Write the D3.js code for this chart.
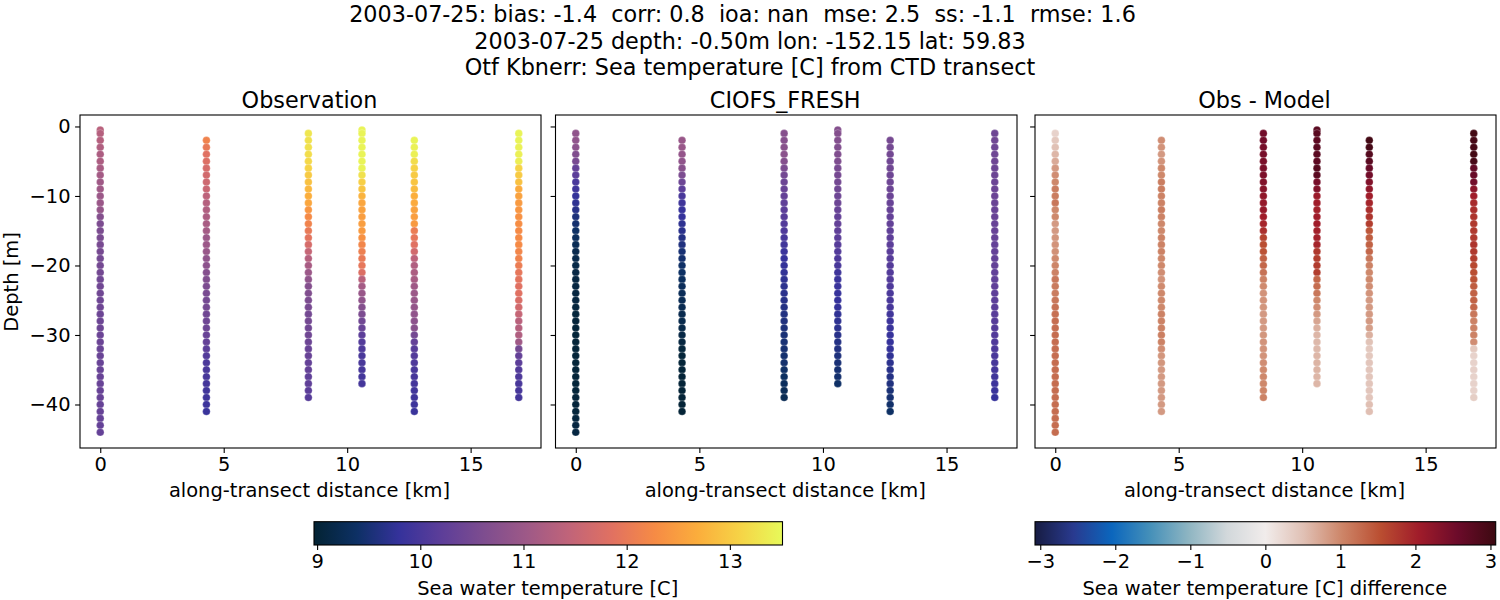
<!DOCTYPE html>
<html><head><meta charset="utf-8">
<script src="https://cdn.jsdelivr.net/npm/d3@7"></script>
<style>html,body{margin:0;padding:0;background:#fff}svg{display:block}text{font-family:"DejaVu Sans";fill:#000}</style>
</head><body><svg id="c" width="1500" height="600"></svg>
<script>
const titleLines = ["2003-07-25: bias: -1.4  corr: 0.8  ioa: nan  mse: 2.5  ss: -1.1  rmse: 1.6","2003-07-25 depth: -0.50m lon: -152.15 lat: 59.83","Otf Kbnerr: Sea temperature [C] from CTD transect"];
const panelTitles = ["Observation","CIOFS_FRESH","Obs - Model"];
const xTicks = [0,5,10,15];
const yTicks = [0,-10,-20,-30,-40];
const tempTicks = [9,10,11,12,13];
const diffTicks = [-3,-2,-1,0,1,2,3];
const stationKm = [0,4.3,8.43,10.6,12.72,16.95];
const depthLevels = [-0.5,-1,-2,-3,-4,-5,-6,-7,-8,-9,-10,-11,-12,-13,-14,-15,-16,-17,-18,-19,-20,-21,-22,-23,-24,-25,-26,-27,-28,-29,-30,-31,-32,-33,-34,-35,-36,-37,-38,-39,-40,-41,-42,-43,-44];
const obsTop = [-0.5,-2,-1,-0.5,-2,-1];
const modelTop = [-1,-2,-1,-0.5,-2,-1];
const obs0 = [11.35,11.3,11.3,11.25,11.2,11.2,11.15,11.1,11.05,11.05,11.0,10.98,10.92,10.7,10.6,10.58,10.56,10.55,10.52,10.5,10.5,10.48,10.45,10.45,10.45,10.42,10.42,10.4,10.4,10.4,10.38,10.38,10.36,10.36,10.35,10.35,10.34,10.34,10.33,10.33,10.32,10.32,10.31,10.3,10.3];
const obs1 = [12.15,12.0,11.85,11.8,11.7,11.65,11.6,11.55,11.4,11.3,11.25,11.2,11.15,11.1,11.0,11.0,10.95,10.85,10.8,10.7,10.65,10.6,10.55,10.5,10.5,10.45,10.42,10.4,10.35,10.3,10.2,10.1,10.02,10.0,9.98,9.95,9.92,9.9,9.88,9.85];
const obs2 = [13.3,13.25,13.25,13.2,13.15,13.1,13.0,12.9,12.8,12.7,12.6,12.4,12.25,12.15,12.0,11.9,11.7,11.5,11.3,11.15,11.0,10.85,10.7,10.65,10.6,10.55,10.5,10.5,10.45,10.45,10.4,10.35,10.35,10.3,10.3,10.25,10.25,10.2,10.15];
const obs3 = [13.45,13.45,13.45,13.45,13.45,13.45,13.45,13.25,13.05,12.95,12.75,12.6,12.55,12.5,12.5,12.45,12.35,12.2,12.1,12.0,11.95,11.8,11.35,11.1,10.95,10.85,10.7,10.6,10.45,10.35,10.2,10.1,10.05,10.0,10.0,9.98,9.95,9.95];
const obs4 = [13.45,13.42,13.4,13.2,13.1,13.0,12.95,12.85,12.7,12.65,12.55,12.5,12.45,12.05,11.95,11.85,11.65,11.4,11.25,11.2,11.15,11.05,11.0,10.95,10.9,10.85,10.8,10.75,10.5,10.3,10.15,10.1,10.05,10.0,9.98,9.95,9.92,9.9,9.88,9.85];
const obs5 = [13.45,13.45,13.42,13.4,13.38,13.1,13.0,12.9,12.65,12.55,12.45,12.4,12.35,12.3,12.25,12.25,12.25,12.2,12.15,12.05,11.95,11.9,11.85,11.85,11.75,11.65,11.5,11.35,11.3,11.25,11.05,10.5,10.3,10.2,10.1,10.05,10.0,9.98,9.95];
const mod0 = [10.85,10.85,10.8,10.65,10.55,10.3,10.2,10.0,9.9,9.78,9.72,9.65,9.55,9.45,9.38,9.32,9.25,9.2,9.18,9.15,9.12,9.1,9.1,9.08,9.08,9.06,9.05,9.04,9.03,9.02,9.02,9.02,9.02,9.02,9.02,9.02,9.03,9.03,9.04,9.04,9.05,9.06,9.08,9.1];
const mod1 = [10.95,10.95,10.9,10.85,10.75,10.6,10.4,10.2,10.0,9.9,9.82,9.8,9.72,9.68,9.62,9.58,9.5,9.45,9.4,9.38,9.32,9.3,9.28,9.25,9.22,9.2,9.18,9.15,9.12,9.08,9.05,9.03,9.02,9.02,9.01,9.01,9.0,9.0,9.0,9.0];
const mod2 = [10.72,10.72,10.75,10.78,10.7,10.6,10.5,10.4,10.35,10.3,10.25,10.2,10.15,10.1,10.05,9.98,9.92,9.85,9.8,9.78,9.75,9.72,9.7,9.68,9.65,9.62,9.6,9.58,9.55,9.52,9.5,9.48,9.46,9.44,9.4,9.36,9.32,9.28,9.25];
const mod3 = [10.7,10.7,10.68,10.65,10.65,10.62,10.55,10.52,10.5,10.45,10.42,10.4,10.35,10.3,10.28,10.25,10.2,10.15,10.1,10.05,10.0,9.9,9.85,9.85,9.82,9.8,9.78,9.74,9.72,9.7,9.66,9.62,9.6,9.56,9.52,9.48,9.45,9.4];
const mod4 = [10.52,10.5,10.48,10.45,10.45,10.42,10.42,10.4,10.38,10.35,10.32,10.3,10.28,10.25,10.22,10.2,10.18,10.15,10.12,10.1,10.1,10.05,10.02,10.0,9.98,9.92,9.88,9.85,9.82,9.8,9.78,9.74,9.7,9.66,9.62,9.58,9.52,9.48,9.42,9.38];
const mod5 = [10.42,10.45,10.42,10.42,10.42,10.4,10.4,10.38,10.38,10.38,10.36,10.35,10.35,10.33,10.33,10.32,10.3,10.3,10.28,10.28,10.26,10.25,10.24,10.22,10.2,10.18,10.16,10.14,10.12,10.1,10.06,10.03,10.0,9.98,9.95,9.92,9.88,9.85,9.8];
const dif0 = [0.3,0.42,0.5,0.6,0.7,0.85,0.95,1.0,1.1,1.1,1.15,1.0,1.0,0.85,0.85,0.88,0.9,0.92,0.98,1.02,1.05,1.15,1.12,1.1,1.15,1.2,1.22,1.25,1.25,1.25,1.25,1.25,1.25,1.25,1.25,1.25,1.25,1.25,1.25,1.25,1.25,1.25,1.25,1.25];
const dif1 = [0.95,0.9,0.85,0.9,1.0,1.0,1.1,1.1,1.05,1.05,1.1,1.05,1.0,1.0,1.05,1.05,1.05,1.0,1.0,0.95,0.9,0.98,1.0,1.0,1.0,1.05,1.05,1.05,1.08,1.05,0.95,0.88,0.88,0.85,0.85,0.85,0.85,0.85,0.85,0.85];
const dif2 = [2.5,2.5,2.45,2.45,2.42,2.42,2.4,2.35,2.3,2.2,2.15,2.15,2.05,1.95,1.85,1.65,1.55,1.5,1.35,1.3,1.2,1.05,0.98,0.9,0.9,0.88,0.85,0.85,0.85,0.88,0.9,0.9,0.9,0.95,0.98,1.0,1.0,1.02,1.05];
const dif3 = [2.75,2.75,2.72,2.75,2.75,2.72,2.8,2.75,2.45,2.35,2.1,2.05,2.0,2.05,2.05,2.0,2.0,1.95,1.75,1.7,1.72,1.7,1.3,1.25,1.15,1.0,0.95,0.85,0.75,0.65,0.6,0.58,0.58,0.6,0.62,0.62,0.6,0.6];
const dif4 = [3.0,2.95,2.8,2.75,2.6,2.5,2.35,2.2,2.05,1.95,1.85,1.8,1.7,1.45,1.4,1.35,1.3,1.15,1.05,1.0,1.0,0.95,0.9,0.85,0.85,0.85,0.85,0.8,0.65,0.48,0.42,0.42,0.45,0.45,0.45,0.45,0.45,0.45,0.52,0.52];
const dif5 = [3.0,2.95,2.95,3.0,2.95,2.65,2.6,2.5,2.25,2.05,1.9,1.85,1.8,1.75,1.75,1.75,1.8,1.75,1.7,1.6,1.55,1.5,1.4,1.35,1.35,1.3,1.15,1.05,1.05,1.05,0.95,0.4,0.3,0.3,0.32,0.3,0.3,0.3,0.35];
const obsValues=[obs0,obs1,obs2,obs3,obs4,obs5], modelValues=[mod0,mod1,mod2,mod3,mod4,mod5], diffValues=[dif0,dif1,dif2,dif3,dif4,dif5];
const thermalStops = ["rgb(3,35,51)","rgb(13,48,100)","rgb(53,50,155)","rgb(93,62,153)","rgb(126,77,143)","rgb(158,89,135)","rgb(193,100,121)","rgb(225,113,97)","rgb(246,139,69)","rgb(251,173,60)","rgb(246,211,70)","rgb(231,250,90)"];
const balanceStops = ["rgb(23,28,66)","rgb(41,58,143)","rgb(11,102,189)","rgb(69,144,185)","rgb(142,181,194)","rgb(210,216,219)","rgb(241,236,235)","rgb(224,192,180)","rgb(205,133,104)","rgb(186,78,49)","rgb(160,28,42)","rgb(108,11,42)","rgb(60,9,17)"];
const tempDomain=[8.97,13.51], diffDomain=[-3.07,3.07];

const ramp=(st,dom)=>d3.scaleLinear().domain(st.map((_,i)=>dom[0]+(dom[1]-dom[0])*i/(st.length-1))).range(st).interpolate(d3.interpolateRgb).clamp(true);
const tempColor=ramp(thermalStops,tempDomain), diffColor=ramp(balanceStops,diffDomain);

const svg=d3.select("#c");
const FS=19.44, TFS=22.3, LW=1.1, TL=4.9;
const titleCx=[742.5,750,750];
svg.append("g").selectAll("text").data(titleLines).join("text")
  .attr("x",(d,i)=>titleCx[i]).attr("y",(d,i)=>22+i*26.5).attr("text-anchor","middle").attr("font-size",TFS).text(d=>d).style("white-space","pre");

const panels=[
 {l:80,r:541,top:obsTop,vals:obsValues,color:tempColor},
 {l:555.5,r:1017,top:modelTop,vals:modelValues,color:tempColor},
 {l:1035,r:1496,top:modelTop,vals:diffValues,color:diffColor}];
const T=115,B=448;
const yScale=d3.scaleLinear().domain([-46.26,1.65]).range([B,T]);

function styleAxis(g){g.attr("font-size",FS).attr("font-family","DejaVu Sans");
  g.select(".domain").remove();g.selectAll(".tick line").attr("stroke","#000").attr("stroke-width",LW);
  g.selectAll(".tick text").attr("fill","#000");}

panels.forEach((p,pi)=>{
  const x=d3.scaleLinear().domain([-0.82,17.85]).range([p.l,p.r]);
  const g=svg.append("g");
  stationKm.forEach((km,si)=>{
    const start=depthLevels.indexOf(p.top[si]);
    const rows=p.vals[si].map((v,i)=>({km,d:depthLevels[start+i],v}));
    g.append("g").selectAll("circle").data(rows).join("circle")
      .attr("cx",d=>x(d.km)).attr("cy",d=>yScale(d.d)).attr("r",3.8).attr("fill",d=>p.color(d.v))
      .attr("stroke","#fff").attr("stroke-opacity",0.3).attr("stroke-width",0.8);
  });
  svg.append("rect").attr("x",p.l).attr("y",T).attr("width",p.r-p.l).attr("height",B-T).attr("fill","none").attr("stroke","#000").attr("stroke-width",LW);
  svg.append("g").attr("transform",`translate(0,${B})`)
    .call(d3.axisBottom(x).tickValues(xTicks).tickFormat(d3.format("d")).tickSize(TL).tickPadding(4.5)).call(styleAxis);
  const ya=d3.axisLeft(yScale).tickValues(yTicks).tickSize(TL).tickPadding(4.5);
  if(pi>0)ya.tickFormat("");
  svg.append("g").attr("transform",`translate(${p.l},0)`).call(ya).call(styleAxis);
  svg.append("text").attr("x",(p.l+p.r)/2-1).attr("y",107.5).attr("text-anchor","middle").attr("font-size",TFS).text(panelTitles[pi]);
  svg.append("text").attr("x",(p.l+p.r)/2-1).attr("y",497).attr("text-anchor","middle").attr("font-size",FS).text("along-transect distance [km]");
});
svg.append("text").attr("transform","translate(18,282) rotate(-90)").attr("text-anchor","middle").attr("font-size",FS).text("Depth [m]");

const defs=svg.append("defs");
function colorbar(id,l,r,dom,color,ticks,label){
  const barT=521.7,barB=545;
  const grad=defs.append("linearGradient").attr("id",id).attr("x1",0).attr("x2",1).attr("y1",0).attr("y2",0);
  const st=color.domain();
  grad.selectAll("stop").data(st).join("stop").attr("offset",d=>(d-dom[0])/(dom[1]-dom[0])).attr("stop-color",d=>color(d));
  svg.append("rect").attr("x",l).attr("y",barT).attr("width",r-l).attr("height",barB-barT).attr("fill",`url(#${id})`).attr("stroke","#000").attr("stroke-width",LW);
  const x=d3.scaleLinear().domain(dom).range([l,r]);
  svg.append("g").attr("transform",`translate(0,${barB})`).call(d3.axisBottom(x).tickValues(ticks).tickFormat(d3.format("d")).tickSize(TL).tickPadding(4.5)).call(styleAxis);
  svg.append("text").attr("x",(l+r)/2-0.5).attr("y",595).attr("text-anchor","middle").attr("font-size",FS).text(label);
}
colorbar("gTemp",314,782.5,tempDomain,tempColor,tempTicks,"Sea water temperature [C]");
colorbar("gDiff",1035,1495.7,diffDomain,diffColor,diffTicks,"Sea water temperature [C] difference");
</script></body></html>
